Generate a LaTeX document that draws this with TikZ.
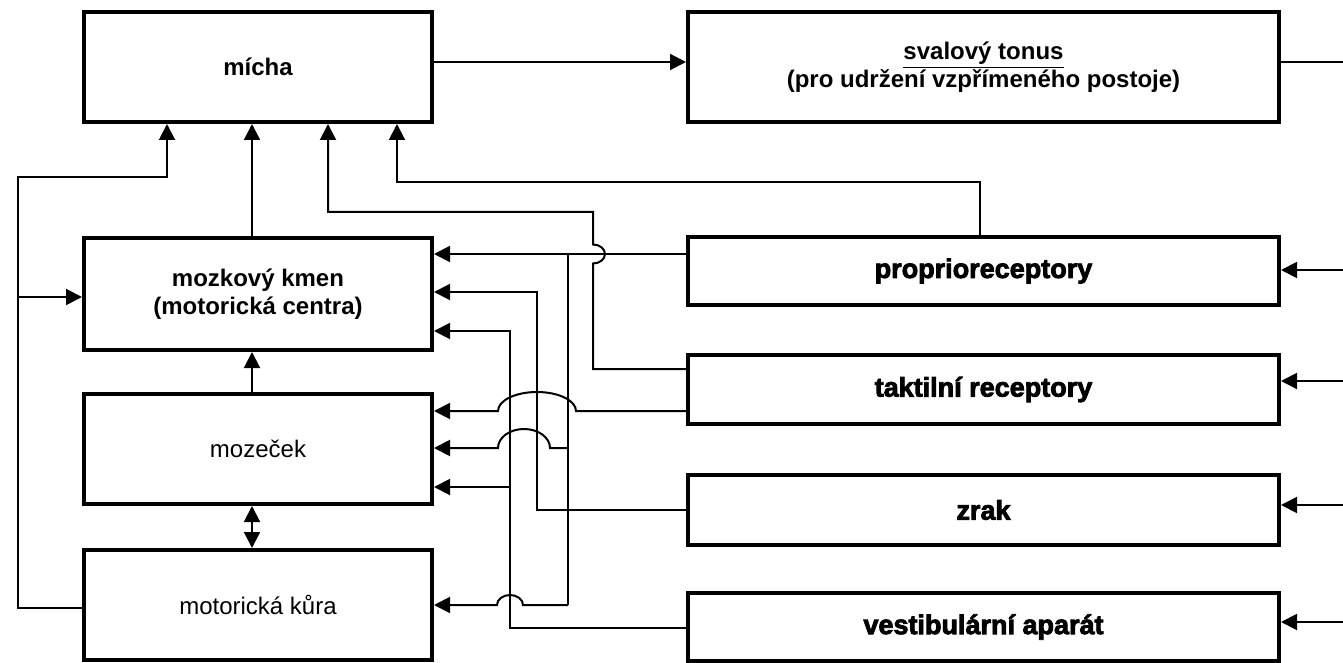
\documentclass[tikz,border=0pt]{standalone}
\usepackage{fontspec}
\setmainfont{Liberation Sans}
\newfontfamily\heavyfont{Liberation Sans}[BoldFeatures={FakeBold=3}]
\usetikzlibrary{arrows.meta}
\begin{document}
\begin{tikzpicture}[x=0.5pt,y=-0.5pt,
  box/.style={draw, line width=2pt, inner sep=0pt, align=center, font=\fontsize{12}{14}\selectfont},
  lbox/.style={box, minimum width=174pt},
  rbox/.style={box, minimum width=295.5pt, font=\heavyfont\bfseries\fontsize{13.5}{16}\selectfont},
  conn/.style={line width=1pt},
  arr/.style={conn, -{Triangle[length=8pt,width=8pt]}},
  darr/.style={conn, {Triangle[length=8pt,width=8pt]}-{Triangle[length=8pt,width=8pt]}}
]
\useasboundingbox (0,0) rectangle (1343,663);

% left column
\node[lbox, minimum height=55pt, font=\bfseries\fontsize{12}{14}\selectfont] (micha) at (258,67) {mícha};
\node[lbox, minimum height=56pt, font=\bfseries\fontsize{12}{14}\selectfont] (kmen) at (258,294) {mozkový kmen\\(motorická centra)};
\node[lbox, minimum height=55pt] (moz) at (258,449) {mozeček};
\node[lbox, minimum height=55pt] (kura) at (258,605) {motorická kůra};

% right column
\node[box, minimum width=295.5pt, minimum height=55pt, font=\bfseries\fontsize{12}{14}\selectfont] (tonus) at (983.5,67) {\underline{svalový tonus}\\(pro udržení vzpřímeného postoje)};
\node[rbox, minimum height=34pt] (prop) at (983.5,271) {proprioreceptory};
\node[rbox, minimum height=34.5pt] (taktil) at (983.5,389.5) {taktilní receptory};
\node[rbox, minimum height=35pt] (zrak) at (983.5,510) {zrak};
\node[rbox, minimum height=34pt] (vest) at (983.5,627) {vestibulární aparát};

% mícha -> tonus, tonus -> out
\coordinate (mt) at (560,62);
\draw[arr] (micha.east |- mt) -- (tonus.west |- mt);
\coordinate (oT) at (1343,62);
\draw[conn] (tonus.east |- oT) -- (oT);

% inputs from the right
\coordinate (iP) at (1343,270);
\draw[arr] (iP) -- (iP -| prop.east);
\coordinate (iT) at (1343,381);
\draw[arr] (iT) -- (iT -| taktil.east);
\coordinate (iZ) at (1343,505);
\draw[arr] (iZ) -- (iZ -| zrak.east);
\coordinate (iV) at (1343,622);
\draw[arr] (iV) -- (iV -| vest.east);

% vertical links in left column
\coordinate (cx) at (252,0);
\draw[arr] (kmen.north -| cx) -- (micha.south -| cx);
\draw[arr] (moz.north -| cx) -- (kmen.south -| cx);
\draw[darr] (moz.south -| cx) -- (kura.north -| cx);

% left loop from motorická kůra
\coordinate (L1) at (18,608);
\coordinate (L2) at (18,177);
\coordinate (L3) at (167,177);
\draw[arr] (kura.west |- L1) -- (L1) -- (L2) -- (L3) -- (micha.south -| L3);
\coordinate (L4) at (18,297);
\draw[arr] (L4) -- (kmen.west |- L4);

% proprioreceptory -> mícha
\coordinate (P1) at (980,182);
\coordinate (P2) at (397,182);
\draw[arr] (prop.north -| P1) -- (P1) -- (P2) -- (micha.south -| P2);

% taktilní -> mícha (jump over proprio line)
\coordinate (T1) at (593,369);
\coordinate (T2) at (593,212);
\coordinate (T3) at (328,212);
\coordinate (Tj) at (593,263.5);
\draw[arr] (taktil.west |- T1) -- (T1) -- (Tj) arc[start angle=-90,end angle=90,x radius=6pt,y radius=4.75pt] -- (T2) -- (T3) -- (micha.south -| T3);

% proprioreceptory -> kmen, mozeček, kůra
\coordinate (Q0) at (568,254);
\draw[arr] (prop.west |- Q0) -- (kmen.east |- Q0);
\coordinate (Q1) at (568,605);
\draw[conn] (Q0) -- (Q1);
\coordinate (Q1a) at (523,605);
\draw[arr] (Q1) -- (Q1a) arc[start angle=0,end angle=180,x radius=6.5pt,y radius=5pt] -- (kura.east |- Q1);
\coordinate (Q2) at (568,448);
\coordinate (Q2a) at (550,448);
\draw[arr] (Q2) -- (Q2a) arc[start angle=0,end angle=180,x radius=13pt,y radius=9.5pt] -- (moz.east |- Q2);

% taktilní -> mozeček
\coordinate (T4) at (576,411);
\draw[arr] (taktil.west |- T4) -- (T4) arc[start angle=0,end angle=180,x radius=19.5pt,y radius=9.5pt] -- (moz.east |- T4);

% zrak -> kmen
\coordinate (Z1) at (537,510);
\coordinate (Z2) at (537,292);
\draw[arr] (zrak.west |- Z1) -- (Z1) -- (Z2) -- (kmen.east |- Z2);

% vestibulární -> kmen, mozeček
\coordinate (V1) at (510,628);
\coordinate (V2) at (510,331);
\draw[arr] (vest.west |- V1) -- (V1) -- (V2) -- (kmen.east |- V2);
\coordinate (V3) at (510,487);
\draw[arr] (V3) -- (moz.east |- V3);
\end{tikzpicture}
\end{document}
